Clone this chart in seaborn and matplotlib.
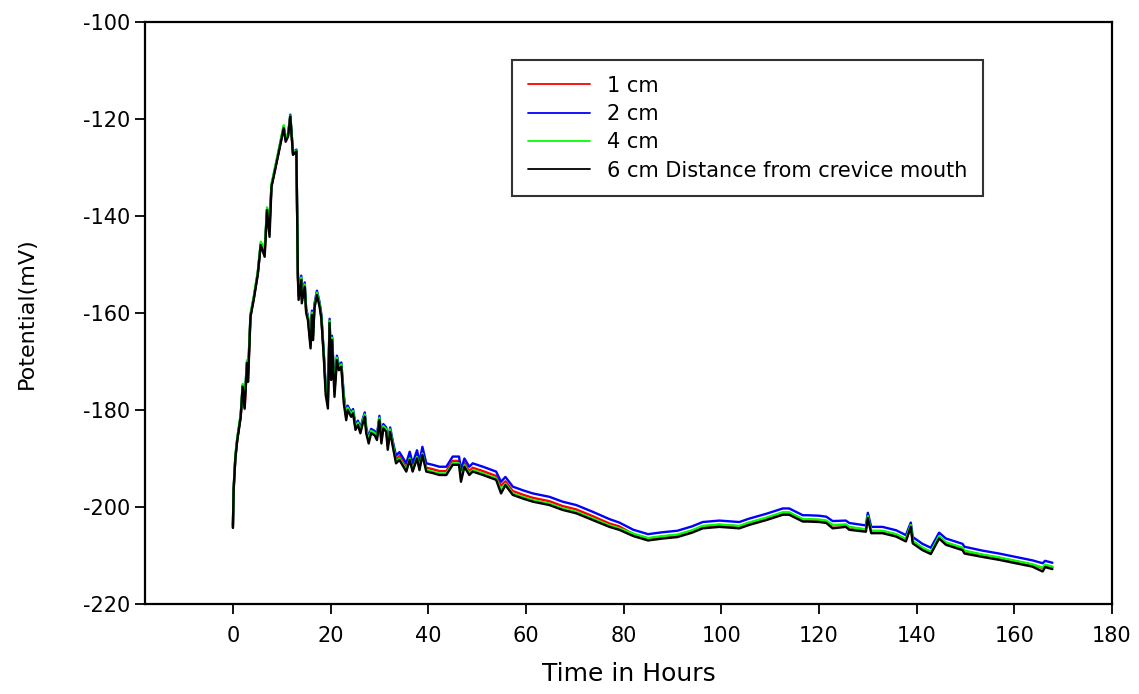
import matplotlib
matplotlib.use("Agg")
import matplotlib.pyplot as plt
import seaborn as sns
import pandas as pd

hours = [
    0.0, 0.15, 0.5, 0.9, 1.6, 2.0, 2.4, 2.9, 3.1, 3.6, 4.3, 5.1, 5.7, 6.5, 7.0, 7.5, 7.9, 9.2, 10.4, 10.8, 11.3, 11.75, 12.3, 13.0,
    13.3, 13.45, 14.0, 14.1, 14.7, 15.0, 15.35, 15.9, 16.2, 16.4, 16.7, 17.2, 17.75, 18.1, 18.6, 19.0, 19.45, 19.8, 20.1, 20.3,
    20.8, 21.3, 21.7, 22.2, 22.7, 23.2, 23.5, 24.2, 24.6, 25.1, 25.6, 26.1, 26.6, 27.0, 27.3, 27.8, 28.3, 29.0, 29.5, 30.0,
    30.4, 30.8, 31.4, 31.7, 32.2, 32.75,
    33.4, 34.1, 35.5, 36.2, 36.8, 37.7, 38.2, 38.8, 39.6, 40.9, 42.3, 43.7, 45.0, 46.3, 46.7, 47.4, 48.4, 49.1, 51.2, 53.9,
    54.9, 55.8, 57.3, 59.5, 61.4, 64.8, 67.5, 70.3, 73.7, 77.1, 79.1,
    82.0, 85.0, 88.0, 91.0, 94.0, 96.2, 99.6, 103.7, 105.7, 109.2, 112.6, 113.9, 116.7, 117.7, 120.1, 121.5, 122.8, 125.5,
    126.2, 129.6, 130.0, 130.7, 133.0, 135.8, 137.8, 138.8, 139.2, 141.2, 142.9, 144.6, 146.0, 149.4, 149.8, 153.5, 156.9,
    160.3, 163.7, 165.8, 166.3, 167.8,
]

cm1 = [
    -204.3, -196.4, -189.9, -186.0, -181.3, -175.0, -179.8, -170.2, -173.5, -160.6, -156.8, -151.8, -145.8, -147.6, -138.6, -142.5, -133.8, -127.6, -121.7, -124.2, -123.3, -119.4, -127.2, -126.5,
    -152.1, -156.5, -152.8, -157.2, -154.2, -159.6, -161.0, -166.5, -160.0, -164.8, -158.6, -155.9, -158.3, -160.7, -168.6, -175.8, -178.3, -161.7, -172.6, -165.2,
    -176.0, -169.3, -171.4, -170.7, -177.5, -181.5, -179.6, -181.0, -180.3, -183.6, -182.7, -184.3, -182.3, -181.0, -184.2, -186.3, -184.4, -184.8, -185.7, -181.7,
    -186.2, -183.4, -184.1, -187.4, -184.1, -187.1,
    -190.2, -189.5, -191.9, -189.5, -191.9, -189.2, -191.6, -188.5, -191.9, -192.2, -192.6, -192.6, -190.5, -190.5, -193.0, -190.9, -192.6, -191.9, -192.6, -193.6,
    -195.6, -194.7, -196.7, -197.5, -198.1, -198.8, -199.8, -200.5, -201.9, -203.4, -204.0,
    -205.6, -206.5, -206.1, -205.8, -204.9, -204.0, -203.7, -204.0, -203.3, -202.3, -201.2, -201.2, -202.6, -202.6, -202.7, -202.9, -203.8, -203.7,
    -204.2, -204.7, -201.9, -205.0, -205.0, -205.7, -206.7, -203.8, -207.1, -208.5, -209.3, -206.1, -207.4, -208.5, -209.1, -209.9, -210.5,
    -211.2, -211.9, -212.6, -212.0, -212.4,
]

cm2 = [
    -203.8, -196.2, -189.7, -185.9, -181.1, -174.9, -177.8, -170.0, -172.5, -160.5, -156.7, -151.7, -145.7, -147.0, -138.5, -141.5, -133.7, -127.5, -121.6, -123.8, -123.2, -119.1, -126.9, -126.3,
    -151.6, -155.8, -152.3, -156.6, -153.7, -159.1, -160.5, -165.8, -159.5, -164.2, -158.1, -155.4, -157.8, -160.2, -168.1, -175.0, -177.5, -161.2, -171.8, -164.7,
    -175.2, -168.8, -170.9, -170.2, -176.8, -180.9, -179.1, -180.5, -179.8, -183.0, -182.2, -183.7, -181.8, -180.5, -183.6, -185.6, -183.9, -184.3, -185.1, -181.2,
    -185.6, -182.9, -183.6, -186.8, -183.6, -186.5,
    -189.4, -188.7, -191.0, -188.6, -191.0, -188.3, -190.7, -187.6, -191.0, -191.3, -191.7, -191.7, -189.6, -189.6, -192.3, -190.0, -191.7, -191.0, -191.7, -192.7,
    -194.8, -193.8, -195.8, -196.6, -197.2, -197.9, -198.9, -199.6, -201.0, -202.5, -203.2,
    -204.7, -205.6, -205.2, -204.9, -204.0, -203.1, -202.8, -203.1, -202.4, -201.4, -200.3, -200.3, -201.7, -201.7, -201.8, -202.0, -202.9, -202.8,
    -203.3, -203.8, -201.2, -204.1, -204.1, -204.8, -205.8, -203.2, -206.2, -207.6, -208.4, -205.3, -206.5, -207.6, -208.2, -209.0, -209.6,
    -210.3, -211.0, -211.6, -211.1, -211.5,
]

cm4 = [
    -203.9, -196.0, -189.4, -185.6, -180.8, -174.6, -177.5, -169.7, -172.0, -160.2, -156.4, -151.4, -145.3, -146.8, -138.2, -141.3, -133.4, -127.2, -121.3, -123.9, -123.0, -119.3, -126.9, -126.5,
    -152.0, -156.3, -152.7, -157.0, -154.1, -159.5, -160.9, -166.2, -159.9, -164.6, -158.5, -155.8, -158.2, -160.6, -168.5, -175.5, -178.0, -161.6, -172.3, -165.1,
    -175.7, -169.2, -171.3, -170.6, -177.3, -181.4, -179.5, -180.9, -180.2, -183.5, -182.6, -184.2, -182.2, -180.9, -184.1, -186.2, -184.3, -184.7, -185.6, -181.6,
    -186.1, -183.3, -184.0, -187.2, -184.0, -187.0,
    -190.7, -190.0, -192.4, -190.0, -192.4, -189.7, -192.1, -189.0, -192.4, -192.7, -193.1, -193.1, -191.0, -191.0, -194.2, -191.4, -193.1, -192.4, -193.1, -194.1,
    -196.6, -195.2, -197.2, -198.0, -198.6, -199.3, -200.3, -201.0, -202.4, -203.8, -204.4,
    -205.5, -206.4, -206.0, -205.7, -204.8, -203.9, -203.6, -203.9, -203.2, -202.2, -201.1, -201.1, -202.5, -202.5, -202.6, -202.8, -203.7, -203.6,
    -204.1, -204.6, -201.9, -204.9, -204.9, -205.6, -206.6, -203.7, -207.0, -208.4, -209.2, -206.0, -207.3, -208.4, -209.0, -209.8, -210.4,
    -211.1, -211.8, -212.5, -211.9, -212.3,
]

cm6 = [
    -204.3, -196.5, -190.0, -186.2, -181.4, -175.2, -179.6, -170.3, -174.2, -160.8, -157.0, -152.0, -146.0, -148.4, -138.8, -144.3, -134.0, -127.8, -121.9, -124.7, -123.6, -119.5, -127.4, -126.7,
    -152.5, -157.3, -153.2, -158.0, -154.6, -160.0, -161.4, -167.3, -160.4, -165.6, -159.0, -156.3, -158.7, -161.1, -169.0, -176.9, -179.7, -162.1, -173.8, -165.6,
    -177.3, -169.7, -171.8, -171.1, -178.6, -182.1, -180.0, -181.4, -180.7, -184.1, -183.1, -184.8, -182.7, -181.4, -184.8, -186.9, -184.8, -185.2, -186.2, -182.1,
    -186.9, -183.8, -184.5, -188.2, -184.5, -187.6,
    -191.0, -190.3, -192.7, -190.3, -192.7, -190.0, -192.4, -189.3, -192.7, -193.0, -193.4, -193.4, -191.3, -191.3, -194.8, -191.7, -193.4, -192.7, -193.4, -194.4,
    -197.2, -195.5, -197.5, -198.3, -198.9, -199.6, -200.6, -201.3, -202.7, -204.1, -204.7,
    -206.0, -206.9, -206.5, -206.2, -205.3, -204.4, -204.1, -204.4, -203.7, -202.7, -201.6, -201.6, -203.0, -203.0, -203.1, -203.3, -204.4, -204.1,
    -204.7, -205.1, -202.3, -205.4, -205.4, -206.1, -207.1, -204.1, -207.5, -208.9, -209.7, -206.5, -207.8, -208.9, -209.6, -210.3, -210.9,
    -211.6, -212.3, -213.3, -212.4, -212.8,
]

labels = ["1 cm", "2 cm", "4 cm", "6 cm Distance from crevice mouth"]
colors = ["#ff0000", "#0000ff", "#00ff00", "#000000"]
x_ticks = [0, 20, 40, 60, 80, 100, 120, 140, 160, 180]
y_ticks = [-220, -200, -180, -160, -140, -120, -100]

series = [cm1, cm2, cm4, cm6]
for s in series:
    assert len(s) == len(hours), (len(s), len(hours))

frames = []
for lab, vals in zip(labels, series):
    frames.append(pd.DataFrame({"Hours": hours, "Potential": vals, "Series": lab}))
df = pd.concat(frames, ignore_index=True)

sns.set_style("ticks")
plt.rcParams["font.family"] = ["DejaVu Sans"]
plt.rcParams["axes.unicode_minus"] = False
plt.rcParams["text.color"] = "black"
plt.rcParams["axes.labelcolor"] = "black"

fig = plt.figure(figsize=(11.39, 6.94), dpi=100)
ax = fig.add_axes([145 / 1139, 1 - 604 / 694, (1112 - 145) / 1139, (604 - 22) / 694])

sns.lineplot(data=df, x="Hours", y="Potential", hue="Series", hue_order=labels,
             palette=dict(zip(labels, colors)), sort=False, estimator=None,
             linewidth=1.7, ax=ax, legend=True)

ax.set_xlim(-18, 180)
ax.set_ylim(-220, -100)
ax.set_xticks(x_ticks)
ax.set_yticks(y_ticks)
ax.tick_params(axis="both", direction="out", length=7.5, width=1.3, labelsize=15,
               colors="black", labelcolor="black")
ax.tick_params(axis="x", pad=8)
ax.tick_params(axis="y", pad=3)
for sp in ax.spines.values():
    sp.set_visible(True)
    sp.set_linewidth(1.6)
    sp.set_color("black")

ax.set_xlabel("Time in Hours", fontsize=18, labelpad=12, color="black")
ax.set_ylabel("Potential(mV)", fontsize=16, labelpad=33, color="black")

handles, _ = ax.get_legend_handles_labels()
leg = ax.legend(handles[:4], labels, loc="upper left",
                bbox_to_anchor=(512 / 1139, 1 - 60 / 694), bbox_transform=fig.transFigure,
                fontsize=15, frameon=True, fancybox=False, edgecolor="black",
                handlelength=3.0, handletextpad=0.8, labelspacing=0.4, borderpad=0.75,
                borderaxespad=0)
leg.get_frame().set_linewidth(1.5)
for t in leg.get_texts():
    t.set_color("black")
for h in leg.get_lines():
    h.set_linewidth(1.3)

fig.savefig("out.png", dpi=100)
